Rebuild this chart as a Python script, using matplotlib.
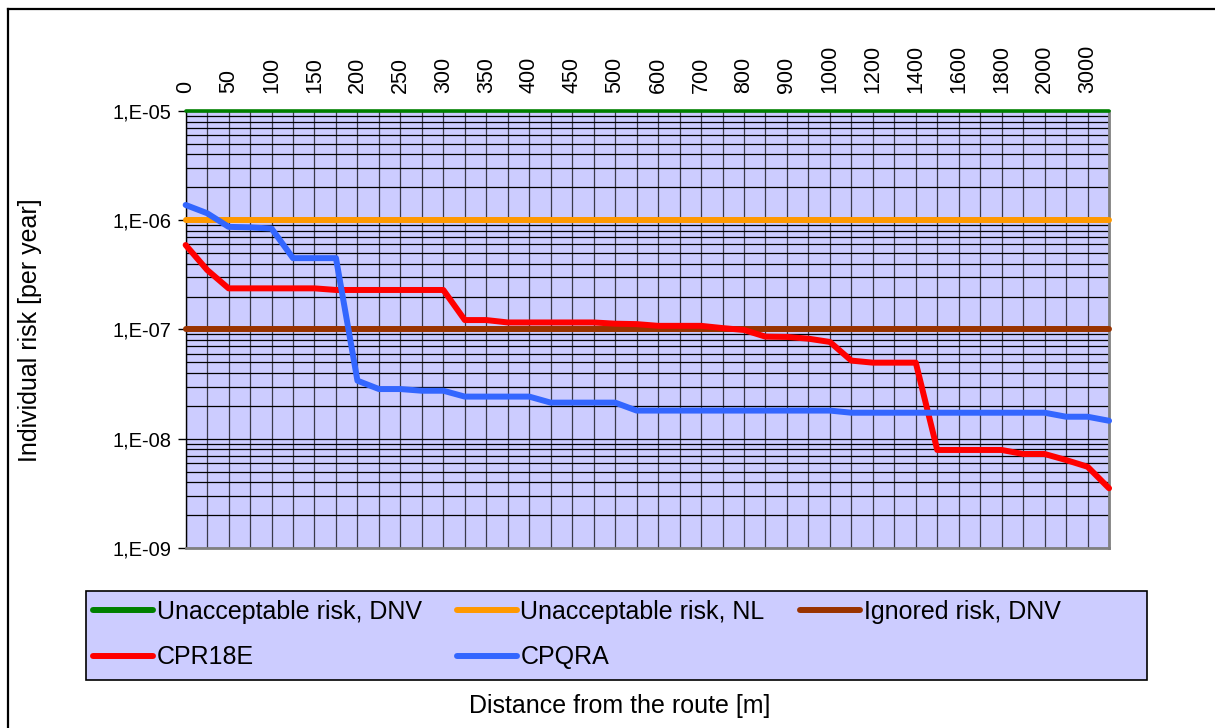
import numpy as np
import matplotlib
matplotlib.use('Agg')
import matplotlib.pyplot as plt
from matplotlib.lines import Line2D
from matplotlib.patches import Rectangle
from matplotlib.ticker import FixedLocator, FuncFormatter, NullFormatter

plt.rcParams['font.family'] = ['Liberation Sans', 'DejaVu Sans']

# distance categories [m]; the last one carries no visible label
dist = ['0', '25', '50', '75', '100', '125', '150', '175', '200', '225', '250',
        '275', '300', '325', '350', '375', '400', '425', '450', '475', '500',
        '550', '600', '650', '700', '750', '800', '850', '900', '950', '1000',
        '1100', '1200', '1300', '1400', '1500', '1600', '1700', '1800', '1900',
        '2000', '2500', '3000', '3500']

cpr18e = [5.93e-7, 3.51e-7, 2.38e-7, 2.38e-7, 2.38e-7, 2.38e-7, 2.38e-7,
          2.30e-7, 2.30e-7, 2.30e-7, 2.30e-7, 2.30e-7, 2.30e-7,
          1.22e-7, 1.22e-7, 1.16e-7, 1.16e-7, 1.16e-7, 1.16e-7, 1.16e-7,
          1.13e-7, 1.12e-7, 1.08e-7, 1.08e-7, 1.08e-7, 1.03e-7, 9.9e-8,
          8.6e-8, 8.55e-8, 8.24e-8, 7.69e-8, 5.19e-8, 4.97e-8, 4.97e-8, 4.97e-8,
          7.89e-9, 7.89e-9, 7.89e-9, 7.89e-9, 7.25e-9, 7.25e-9,
          6.38e-9, 5.54e-9, 3.52e-9]

cpqra = [1.38e-6, 1.16e-6, 8.7e-7, 8.6e-7, 8.4e-7, 4.5e-7, 4.5e-7, 4.5e-7,
         3.4e-8, 2.85e-8, 2.85e-8, 2.75e-8, 2.75e-8,
         2.43e-8, 2.43e-8, 2.43e-8, 2.43e-8, 2.14e-8, 2.14e-8, 2.14e-8, 2.14e-8,
         1.81e-8, 1.81e-8, 1.81e-8, 1.81e-8, 1.81e-8, 1.81e-8, 1.81e-8, 1.81e-8,
         1.81e-8, 1.81e-8,
         1.73e-8, 1.73e-8, 1.73e-8, 1.73e-8, 1.73e-8, 1.73e-8, 1.73e-8, 1.73e-8,
         1.73e-8, 1.73e-8,
         1.59e-8, 1.59e-8, 1.46e-8]

lim_dnv = 1e-5   # unacceptable risk, DNV
lim_nl = 1e-6    # unacceptable risk, NL
ign_dnv = 1e-7   # ignored risk, DNV

xx = np.arange(len(dist))

fig = plt.figure(figsize=(12.15, 7.28), dpi=100)
ax = fig.add_axes([0.1528, 0.2473, 0.7600, 0.6002])
ax.set_facecolor('#CCCCFF')

ax.plot(xx, np.full(len(xx), lim_dnv), color='#008000', lw=2.6, solid_capstyle='round',
        clip_on=False, zorder=5, label='Unacceptable risk, DNV')
ax.plot(xx, np.full(len(xx), lim_nl), color='#FF9900', lw=4.3, solid_capstyle='round',
        clip_on=False, zorder=5, label='Unacceptable risk, NL')
ax.plot(xx, np.full(len(xx), ign_dnv), color='#993300', lw=4.3, solid_capstyle='round',
        clip_on=False, zorder=5, label='Ignored risk, DNV')
ax.plot(xx, cpr18e, color='#FF0000', lw=4.3, solid_capstyle='round',
        clip_on=False, zorder=6, label='CPR18E')
ax.plot(xx, cpqra, color='#3366FF', lw=4.3, solid_capstyle='round',
        clip_on=False, zorder=7, label='CPQRA')

ax.set_yscale('log')
ax.set_ylim(1e-9, 1e-5)
ax.set_xlim(0, len(dist) - 1)

ax.yaxis.set_major_locator(FixedLocator([1e-9, 1e-8, 1e-7, 1e-6, 1e-5]))
ax.yaxis.set_major_formatter(FuncFormatter(lambda v, p: '1,E-%02d' % round(-np.log10(v))))
ax.yaxis.set_minor_locator(FixedLocator([m * 10.0**e for e in range(-9, -5) for m in range(2, 10)]))
ax.yaxis.set_minor_formatter(NullFormatter())
ax.tick_params(axis='y', which='major', length=6, width=1, color='k', labelsize=14.5, pad=4)
ax.tick_params(axis='y', which='minor', length=0)

ax.xaxis.tick_top()
ax.set_xticks(xx)
ax.set_xticklabels([d if i % 2 == 0 else '' for i, d in enumerate(dist)], rotation=90)
ax.tick_params(axis='x', which='major', length=0, labelsize=15.5, pad=13)

ax.grid(True, axis='y', which='both', color='k', lw=0.9, zorder=1)
ax.grid(True, axis='x', which='major', color='#3a3a4a', lw=0.9, zorder=1)
ax.set_axisbelow(True)

ax.spines['top'].set_visible(False)
ax.spines['left'].set_color('k')
ax.spines['left'].set_linewidth(1)
for s in ['right', 'bottom']:
    ax.spines[s].set_color('#808080')
    ax.spines[s].set_linewidth(2)

fig.text(30 / 1215, 1 - 330 / 728, 'Individual risk [per year]', rotation=90,
         ha='center', va='center', fontsize=18)
fig.text(620 / 1215, 1 - 706 / 728, 'Distance from the route [m]',
         ha='center', va='center', fontsize=18)

# legend box, drawn like the spreadsheet one
fig.patches.append(Rectangle((86 / 1215, 1 - 680 / 728), 1061 / 1215, 89 / 728,
                             transform=fig.transFigure, facecolor='#CCCCFF',
                             edgecolor='k', lw=1.2, zorder=0))
hh, ll = ax.get_legend_handles_labels()
order = [0, 3, 1, 4, 2]   # matplotlib fills columns first; this gives row-wise order
leg = fig.legend([hh[i] for i in order], [ll[i] for i in order], ncol=3, loc='upper left',
                 bbox_to_anchor=(93 / 1215, 1 - 600 / 728),
                 frameon=False, fontsize=18, handlelength=2.4, handletextpad=0.15,
                 columnspacing=1.4, labelspacing=0.85, borderpad=0, borderaxespad=0)
for ln in leg.get_lines():
    ln.set_linewidth(4.3)

# outer chart frame
fig.add_artist(Line2D([8 / 1215, 8 / 1215], [0, 1 - 9 / 728], transform=fig.transFigure, color='k', lw=1.6))
fig.add_artist(Line2D([8 / 1215, 1.0], [1 - 9 / 728, 1 - 9 / 728], transform=fig.transFigure, color='k', lw=1.6))

plt.savefig('out.png', dpi=100)
